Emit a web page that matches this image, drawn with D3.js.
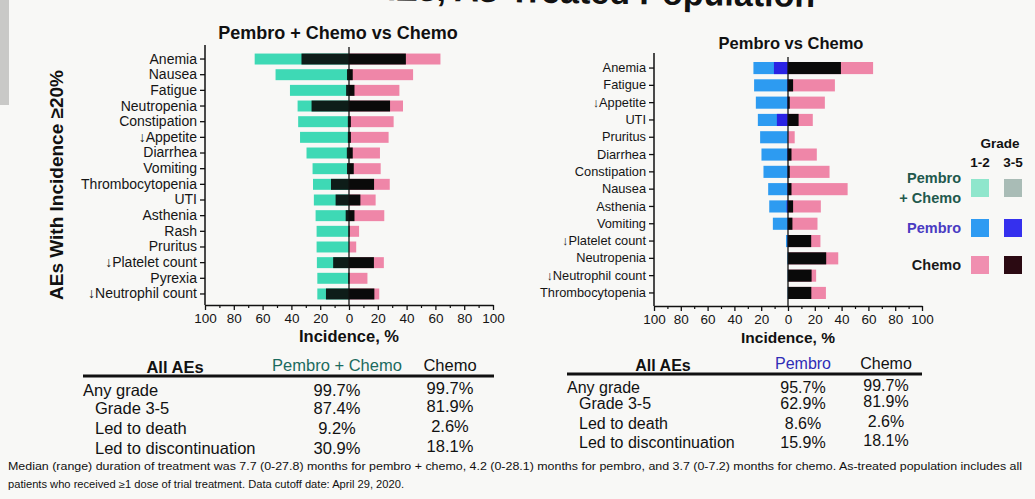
<!DOCTYPE html>
<html>
<head>
<meta charset="utf-8">
<script src="https://cdn.jsdelivr.net/npm/d3@7"></script>
<style>
  body { margin: 0; background: #f8f8f6; }
  svg { display: block; font-family: "Liberation Sans", Arial, sans-serif; }
</style>
</head>
<body>
<div id="chart"></div>
<script>
// AE incidence, as-treated population: pembro + chemo vs chemo, pembro vs chemo

// left panel order
let leftAEs = ["Anemia", "Nausea", "Fatigue", "Neutropenia", "Constipation", "↓Appetite", "Diarrhea",
  "Vomiting", "Thrombocytopenia", "UTI", "Asthenia", "Rash", "Pruritus", "↓Platelet count", "Pyrexia",
  "↓Neutrophil count"];
// right panel order
let rightAEs = ["Anemia", "Fatigue", "↓Appetite", "UTI", "Pruritus", "Diarrhea", "Constipation", "Nausea",
  "Asthenia", "Vomiting", "↓Platelet count", "Neutropenia", "↓Neutrophil count", "Thrombocytopenia"];

// pembro + chemo, any grade / grade 3-5 (same order as leftAEs)
let comboAny = [65.5, 51, 41, 35.7, 35.3, 34, 29.5, 25.3, 25, 24.4, 23.2, 22.5, 22.5, 22.3, 22, 22];
let comboG35 = [33, 1.4, 2, 26, 0.8, 0.8, 1.5, 1.4, 12.5, 9.3, 2.3, 0.3, 0, 11, 0.5, 16];

// chemo, any grade / grade 3-5 (same order as leftAEs)
let chemoAny = [63.5, 44.5, 35, 37.5, 31, 27.5, 21.5, 22, 28.3, 18.5, 24.5, 7, 5, 24.2, 12.8, 21];
let chemoG35 = [39.5, 2.6, 3.8, 28.5, 1.3, 1.3, 2.6, 3.3, 17.4, 7.9, 3.8, 0.4, 0, 17.3, 0.3, 17.6];

// pembro alone, any grade / grade 3-5 (same order as rightAEs)
let pembroAny = [25.8, 25.3, 24, 22.5, 20.8, 19.8, 18.3, 14.8, 14, 11.3, 1.5, 0.5, 0.3, 0.3];
let pembroG35 = [10.5, 0.5, 0.5, 8.3, 0, 0.5, 0.3, 0.5, 1, 0.3, 0.3, 0, 0, 0];

let tickVals = d3.range(-100, 101, 20);

// summary tables
let rowLabels = ["Any grade", "Grade 3-5", "Led to death", "Led to discontinuation"];
let comboSummary = ["99.7%", "87.4%", "9.2%", "30.9%"];
let pembroSummary = ["95.7%", "62.9%", "8.6%", "15.9%"];
let chemoSummary = ["99.7%", "81.9%", "2.6%", "18.1%"];

let footnote = [
  "Median (range) duration of treatment was 7.7 (0-27.8) months for pembro + chemo, 4.2 (0-28.1) months for pembro, and 3.7 (0-7.2) months for chemo. As-treated population includes all",
  "patients who received \u22651 dose of trial treatment. Data cutoff date: April 29, 2020."
];

// colors
let col = {
  teal: "#3ed9b5", tealDark: "#0e1d19",
  blue: "#2d9bf1", blueDark: "#2a23e3",
  pink: "#ef86a8", black: "#0a0a0a"
};

let chemoByAE = {};
leftAEs.forEach(function(a, i) { chemoByAE[a] = {any: chemoAny[i], g35: chemoG35[i]}; });

let svg = d3.select("#chart").append("svg")
  .attr("width", 1035)
  .attr("height", 499);

svg.append("rect").attr("width", 1035).attr("height", 499).attr("fill", "#f8f8f6");
// photo edge on the left
svg.append("rect").attr("x", 0).attr("y", 0).attr("width", 9).attr("height", 105).attr("fill", "#c9c9c7");

// slide title, cut off by the photo (which is slightly tilted)
svg.append("text")
  .attr("x", 815).attr("y", 7)
  .attr("transform", "rotate(0.9,815,7)")
  .attr("text-anchor", "end")
  .attr("font-size", 34).attr("font-weight", "bold").attr("fill", "#111")
  .text("AEs, As-Treated Population");

function drawPanel(opts) {
  let g = svg.append("g");
  let x = d3.scaleLinear().domain([-100, 100]).range(opts.xRange);
  let y = d3.scaleBand().domain(opts.aes).range(opts.yRange).paddingInner(0.3).paddingOuter(0.15);

  // bars: left side (experimental arm), right side (chemo)
  let rows = opts.aes.map(function(a, i) {
    return {ae: a, lAny: opts.lAny[i], lG35: opts.lG35[i], rAny: chemoByAE[a].any, rG35: chemoByAE[a].g35};
  });

  g.selectAll(".lAny").data(rows).enter().append("rect")
    .attr("x", function(d) { return x(-d.lAny); })
    .attr("y", function(d) { return y(d.ae); })
    .attr("width", function(d) { return x(0) - x(-d.lAny); })
    .attr("height", y.bandwidth())
    .attr("fill", opts.lColor);
  g.selectAll(".lG35").data(rows).enter().append("rect")
    .attr("x", function(d) { return x(-d.lG35); })
    .attr("y", function(d) { return y(d.ae); })
    .attr("width", function(d) { return x(0) - x(-d.lG35); })
    .attr("height", y.bandwidth())
    .attr("fill", opts.lDark);
  g.selectAll(".rAny").data(rows).enter().append("rect")
    .attr("x", x(0))
    .attr("y", function(d) { return y(d.ae); })
    .attr("width", function(d) { return x(d.rAny) - x(0); })
    .attr("height", y.bandwidth())
    .attr("fill", col.pink);
  g.selectAll(".rG35").data(rows).enter().append("rect")
    .attr("x", x(0))
    .attr("y", function(d) { return y(d.ae); })
    .attr("width", function(d) { return x(d.rG35) - x(0); })
    .attr("height", y.bandwidth())
    .attr("fill", col.black);

  // zero line
  g.append("line")
    .attr("x1", x(0)).attr("x2", x(0))
    .attr("y1", opts.zeroTop).attr("y2", opts.axisY)
    .attr("stroke", "#111").attr("stroke-width", 1.3);

  // y axis
  let ya = g.append("g")
    .attr("transform", "translate(" + opts.xRange[0] + ",0)")
    .call(d3.axisLeft(y).tickSize(5).tickPadding(3).tickSizeOuter(0));
  ya.select(".domain").remove();
  ya.selectAll("line").attr("stroke", "#111").attr("stroke-width", 1.3);
  ya.selectAll("text").attr("font-size", opts.labelSize).attr("fill", "#151515")
    .attr("font-family", "'Liberation Sans', Arial, sans-serif");
  g.append("line")
    .attr("x1", opts.xRange[0]).attr("x2", opts.xRange[0])
    .attr("y1", opts.axisTop).attr("y2", opts.axisY)
    .attr("stroke", "#111").attr("stroke-width", 1.5);

  // x axis, major + minor ticks
  let xa = g.append("g")
    .attr("transform", "translate(0," + opts.axisY + ")")
    .call(d3.axisBottom(x).tickValues(tickVals).tickFormat(function(d) { return Math.abs(d); })
      .tickSize(5).tickSizeOuter(0).tickPadding(3));
  xa.select(".domain").attr("stroke", "#111").attr("stroke-width", 1.5);
  xa.selectAll("line").attr("stroke", "#111").attr("stroke-width", 1.3);
  xa.selectAll("text").attr("font-size", 13.5).attr("fill", "#151515")
    .attr("font-family", "'Liberation Sans', Arial, sans-serif");
  let xm = g.append("g")
    .attr("transform", "translate(0," + opts.axisY + ")")
    .call(d3.axisBottom(x).tickValues(d3.range(-90, 100, 20)).tickFormat("").tickSize(3).tickSizeOuter(0));
  xm.select(".domain").remove();
  xm.selectAll("line").attr("stroke", "#111").attr("stroke-width", 1.2);

  g.append("text")
    .attr("x", x(0)).attr("y", opts.axisY + 37)
    .attr("text-anchor", "middle")
    .attr("font-size", opts.xTitleSize).attr("font-weight", "bold").attr("fill", "#111")
    .text("Incidence, %");

  g.append("text")
    .attr("x", opts.titleX).attr("y", opts.titleY)
    .attr("text-anchor", "middle")
    .attr("font-size", opts.titleSize).attr("font-weight", "bold").attr("fill", "#111")
    .text(opts.title);
}

drawPanel({
  aes: leftAEs, lAny: comboAny, lG35: comboG35, lColor: col.teal, lDark: col.tealDark,
  xRange: [205, 493], yRange: [51.2, 301.8], axisTop: 45, axisY: 305, zeroTop: 47,
  labelSize: 14, xTitleSize: 16.5,
  title: "Pembro + Chemo vs Chemo", titleX: 338, titleY: 39, titleSize: 18
});
drawPanel({
  aes: rightAEs, lAny: pembroAny, lG35: pembroG35, lColor: col.blue, lDark: col.blueDark,
  xRange: [654, 922], yRange: [59.4, 301.6], axisTop: 53, axisY: 306, zeroTop: 57,
  labelSize: 12.8, xTitleSize: 15.5,
  title: "Pembro vs Chemo", titleX: 791, titleY: 49, titleSize: 16.5
});

// y axis title
svg.append("text")
  .attr("transform", "translate(63,185) rotate(-90)")
  .attr("text-anchor", "middle")
  .attr("font-size", 19).attr("font-weight", "bold").attr("fill", "#111")
  .text("AEs With Incidence \u226520%");

// legend
let legend = svg.append("g");
legend.append("text").attr("x", 1000).attr("y", 148).attr("text-anchor", "middle")
  .attr("font-size", 13.5).attr("font-weight", "bold").attr("fill", "#111").text("Grade");
legend.append("text").attr("x", 980).attr("y", 167).attr("text-anchor", "middle")
  .attr("font-size", 13.5).attr("font-weight", "bold").attr("fill", "#111").text("1-2");
legend.append("text").attr("x", 1013).attr("y", 167).attr("text-anchor", "middle")
  .attr("font-size", 13.5).attr("font-weight", "bold").attr("fill", "#111").text("3-5");

let legendRows = [
  {lines: ["Pembro", "+ Chemo"], color: "#22594d", c1: "#8fe6cc", c2: "#a9bcb6", y: 188},
  {lines: ["Pembro"], color: "#4a3cc2", c1: "#2e9bf2", c2: "#3530ee", y: 228},
  {lines: ["Chemo"], color: "#1a1a1a", c1: "#f08fb0", c2: "#2b0a12", y: 265}
];
legendRows.forEach(function(r) {
  r.lines.forEach(function(t, i) {
    legend.append("text")
      .attr("x", 961).attr("y", r.y + 5 - (r.lines.length - 1) * 10 + i * 20)
      .attr("text-anchor", "end")
      .attr("font-size", 14.5).attr("font-weight", "bold").attr("fill", r.color)
      .text(t);
  });
  legend.append("rect").attr("x", 971).attr("y", r.y - 9).attr("width", 18).attr("height", 18).attr("fill", r.c1);
  legend.append("rect").attr("x", 1004).attr("y", r.y - 9).attr("width", 18).attr("height", 18).attr("fill", r.c2);
});

// tables
function drawTable(t) {
  let g = svg.append("g").attr("fill", "#111");
  g.append("text").attr("x", t.labelHeadX).attr("y", t.headY).attr("text-anchor", "middle")
    .attr("font-size", t.size).attr("font-weight", "bold").text("All AEs");
  g.append("text").attr("x", t.c1).attr("y", t.headY - 2).attr("text-anchor", "middle")
    .attr("font-size", t.size).attr("fill", t.armColor).text(t.arm);
  g.append("text").attr("x", t.c2).attr("y", t.headY - 2).attr("text-anchor", "middle")
    .attr("font-size", t.size).text("Chemo");
  g.append("line").attr("x1", t.x0).attr("x2", t.x1).attr("y1", t.lineY).attr("y2", t.lineY)
    .attr("stroke", "#111").attr("stroke-width", 3);
  rowLabels.forEach(function(lab, i) {
    let yy = t.rowY[i];
    g.append("text").attr("x", i === 0 ? t.x0 : t.x0 + 12).attr("y", yy)
      .attr("font-size", t.size).text(lab);
    g.append("text").attr("x", t.c1).attr("y", yy).attr("text-anchor", "middle")
      .attr("font-size", t.size).text(t.vals[i]);
    g.append("text").attr("x", t.c2).attr("y", yy - 2).attr("text-anchor", "middle")
      .attr("font-size", t.size).text(chemoSummary[i]);
  });
}
drawTable({arm: "Pembro + Chemo", armColor: "#1b6b5e", vals: comboSummary, x0: 83, x1: 494, size: 16.5,
  labelHeadX: 175, c1: 337, c2: 450, headY: 373, lineY: 376, rowY: [396, 414, 434, 454]});
drawTable({arm: "Pembro", armColor: "#2f2db6", vals: pembroSummary, x0: 567, x1: 922, size: 16,
  labelHeadX: 663, c1: 803, c2: 886, headY: 371, lineY: 374, rowY: [393, 409, 429, 448]});

// footnote
svg.append("text").attr("x", 8).attr("y", 470).attr("font-size", 10).attr("fill", "#111")
  .attr("textLength", 1014).attr("lengthAdjust", "spacingAndGlyphs").text(footnote[0]);
svg.append("text").attr("x", 8).attr("y", 488).attr("font-size", 10).attr("fill", "#111")
  .attr("textLength", 396).attr("lengthAdjust", "spacingAndGlyphs").text(footnote[1]);
</script>
</body>
</html>
